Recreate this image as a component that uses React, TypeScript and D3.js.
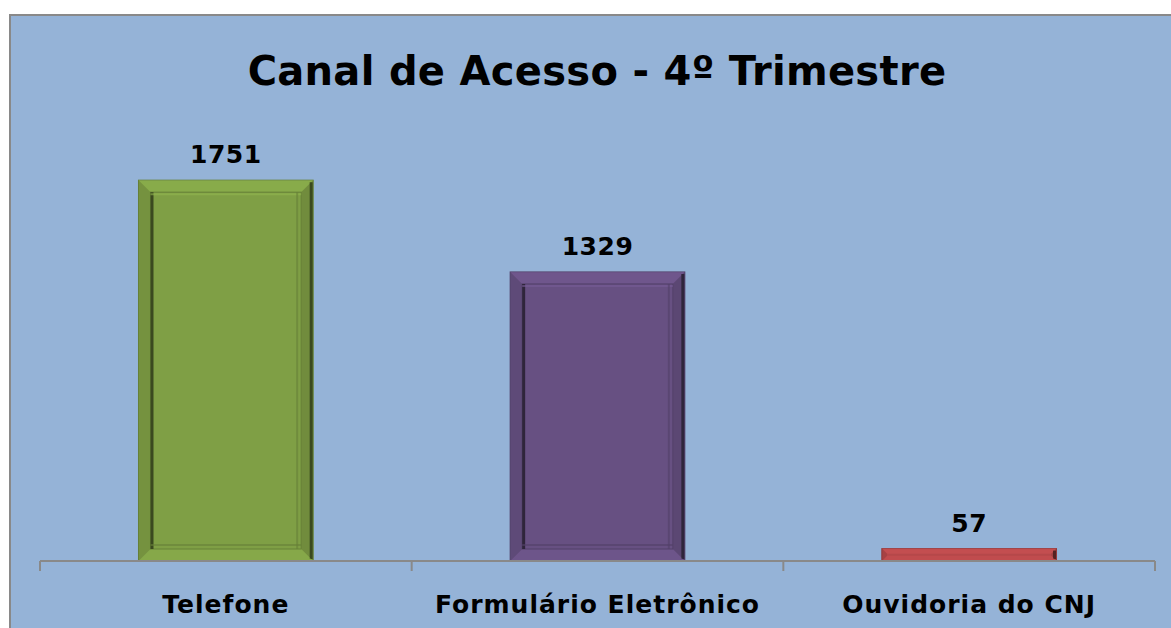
import React from "react";
import * as d3 from "d3";

const categories = ["Telefone", "Formulário Eletrônico", "Ouvidoria do CNJ"];
const values = [1751, 1329, 57];
const colors = ["#7F9F45", "#675082", "#B5484A"];
const title = "Canal de Acesso - 4º Trimestre";

const W = 1171;
const H = 628;
const plotLeft = 40;
const plotRight = 1155;
const baseY = 561;

export default function App() {
  const x = d3.scaleBand<string>().domain(categories).range([plotLeft, plotRight]).paddingInner(0.53).paddingOuter(0.265);
  const y = d3.scaleLinear().domain([0, 2000]).range([baseY, 126]);
  const step = (plotRight - plotLeft) / categories.length;
  const ticks = d3.range(categories.length + 1).map((i) => plotLeft + i * step);
  const font = "'DejaVu Sans', Verdana, sans-serif";

  return (
    <svg width={W} height={H} style={{ position: "absolute", left: 0, top: 0 }}>
      <rect x={0} y={0} width={W} height={H} fill="#ffffff" />
      <rect x={10} y={15} width={1300} height={800} fill="#95B3D7" stroke="#898989" strokeWidth={2} />
      <text x={597} y={85} textAnchor="middle" fontFamily={font} fontWeight="bold" fontSize={40} letterSpacing={0.3} fill="#000">
        {title}
      </text>
      {categories.map((c, i) => {
        const bx = x(c)!;
        const bw = x.bandwidth();
        const top = y(values[i]);
        const bh = baseY - top;
        const col = colors[i];
        const inset = Math.min(12, bh / 2 - 1);
        const lighter = d3.color(col)!.brighter(0.4).formatHex();
        const darker = d3.color(col)!.darker(0.6).formatHex();
        const darkest = d3.color(col)!.darker(2.2).formatHex();
        const ix = bx + inset, iy = top + inset, iw = bw - 2 * inset, ih = bh - 2 * inset;
        return (
          <g key={c}>
            <rect x={bx} y={top} width={bw} height={bh} fill={col} stroke={darker} strokeWidth={1} />
            <polygon points={`${bx},${top} ${bx + bw},${top} ${ix + iw},${iy} ${ix},${iy}`} fill={lighter} opacity={0.5} />
            <polygon points={`${bx + bw},${top} ${bx + bw},${top + bh} ${ix + iw},${iy + ih} ${ix + iw},${iy}`} fill={darker} opacity={0.6} />
            <line x1={bx + bw - 2} y1={top + 2} x2={bx + bw - 2} y2={top + bh - 2} stroke={darkest} strokeWidth={3} />
            <polygon points={`${bx},${top + bh} ${bx + bw},${top + bh} ${ix + iw},${iy + ih} ${ix},${iy + ih}`} fill={lighter} opacity={0.4} />
            <polygon points={`${bx},${top} ${bx},${top + bh} ${ix},${iy + ih} ${ix},${iy}`} fill={darker} opacity={0.4} />
            {ih > 2 && (
              <>
                <rect x={ix} y={iy} width={iw} height={ih} fill={col} stroke={darker} strokeWidth={1} />
                <line x1={ix + 1.5} y1={iy} x2={ix + 1.5} y2={iy + ih} stroke={darkest} strokeWidth={3} />
                <line x1={ix} y1={iy + 2} x2={ix + iw} y2={iy + 2} stroke={lighter} strokeWidth={2} opacity={0.6} />
                <line x1={ix} y1={iy + ih - 4} x2={ix + iw} y2={iy + ih - 4} stroke={darker} strokeWidth={2} opacity={0.6} />
                <line x1={ix + iw - 4} y1={iy} x2={ix + iw - 4} y2={iy + ih} stroke={darker} strokeWidth={2} opacity={0.6} />
              </>
            )}
            <text x={bx + bw / 2} y={top - 17} textAnchor="middle" fontFamily={font} fontWeight="bold" fontSize={25} letterSpacing={0.5} fill="#000">
              {values[i]}
            </text>
            <text x={bx + bw / 2} y={613} textAnchor="middle" fontFamily={font} fontWeight="bold" fontSize={25} letterSpacing={1} fill="#000">
              {c}
            </text>
          </g>
        );
      })}
      <line x1={plotLeft} y1={baseY} x2={plotRight} y2={baseY} stroke="#898989" strokeWidth={2} />
      {ticks.map((t, i) => (
        <line key={i} x1={t} y1={baseY} x2={t} y2={571} stroke="#898989" strokeWidth={2} />
      ))}
    </svg>
  );
}
